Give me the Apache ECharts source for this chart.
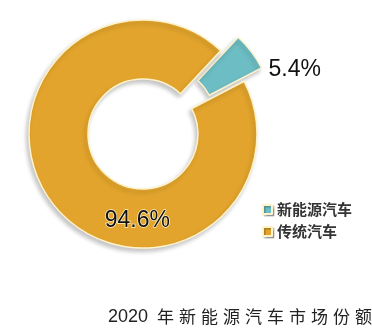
<!DOCTYPE html>
<html><head><meta charset="utf-8">
<script src="https://cdn.jsdelivr.net/npm/echarts@6/dist/echarts.min.js"></script>
<style>html,body{margin:0;padding:0;background:#fff}#c{width:372px;height:332px}</style>
</head><body><div id="c"></div>
<script>
const categories = ['新能源汽车', '传统汽车'];
const shares = [5.4, 94.6];
const colors = ['#6DBDC4', '#E2A42C'];
const titleYear = '2020';
const titleText = '年新能源汽车市场份额';

const chart = echarts.init(document.getElementById('c'), null, {renderer: 'canvas'});
const titleRich = '{n|' + titleYear + '}' + titleText.split('').map(ch => '{c|' + ch + '}').join('');
const tealLabel = {show: true, position: 'inside', offset: [65, 3], formatter: p => p.value + '%', fontFamily: 'Liberation Sans', fontSize: 23, color: '#111'};
chart.setOption({
  animation: false,
  backgroundColor: '#fff',
  title: {
    text: titleRich,
    left: 103, top: 303,
    textStyle: {
      fontWeight: 'normal',
      rich: {
        n: {fontFamily: 'Liberation Sans', fontSize: 18, fontWeight: 'normal', color: '#222', width: 49, align: 'left'},
        c: {fontFamily: 'Noto Sans CJK SC', fontSize: 17, fontWeight: 'normal', color: '#222', width: 22, align: 'left'}
      }
    }
  },
  legend: {
    orient: 'vertical', left: 257, top: 197,
    itemWidth: 9, itemHeight: 9, itemGap: 7,
    icon: 'rect',
    data: categories,
    itemStyle: {shadowColor: 'rgba(0,0,0,0.25)', shadowBlur: 1, shadowOffsetX: 1.5, shadowOffsetY: 1.5},
    textStyle: {fontFamily: 'Noto Sans CJK SC', fontSize: 15, fontWeight: 'bold', color: '#333'}
  },
  series: [{
    type: 'pie',
    center: [143, 134],
    radius: [55, 114],
    startAngle: 47,
    selectedMode: 'single',
    selectedOffset: 22,
    avoidLabelOverlap: false,
    emphasis: {disabled: true},
    itemStyle: {borderColor: '#FFF3CC', borderWidth: 1.5, shadowColor: 'rgba(0,0,0,0.22)', shadowBlur: 4, shadowOffsetX: -2, shadowOffsetY: 3},
    labelLine: {show: false},
    data: categories.map((name, i) => ({
      name, value: shares[i], selected: i === 0,
      itemStyle: {color: colors[i]},
      label: i === 0
        ? tealLabel
        : {show: true, position: 'inside', offset: [64, 34], formatter: p => p.value + '%', fontFamily: 'Liberation Sans', fontSize: 23, color: '#111', textBorderColor: '#FFF3CC', textBorderWidth: 1.5},
      select: i === 0 ? {label: tealLabel} : undefined
    }))
  }]
});
</script></body></html>
